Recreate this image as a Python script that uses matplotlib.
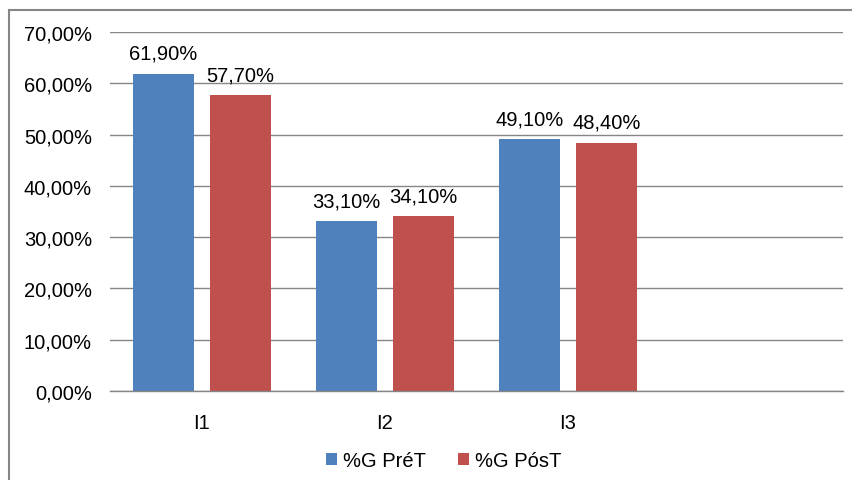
import matplotlib
matplotlib.use('Agg')
import matplotlib.pyplot as plt
from matplotlib.lines import Line2D
import numpy as np

# categorias e valores (%)
categorias = ['I1', 'I2', 'I3', '']
pre_t = [61.9, 33.1, 49.1]
pos_t = [57.7, 34.1, 48.4]
rotulos_y = ['0,00%', '10,00%', '20,00%', '30,00%', '40,00%', '50,00%', '60,00%', '70,00%']

azul = '#4F81BD'
vermelho = '#C0504D'
cinza = '#868686'

plt.rcParams['font.family'] = ['Liberation Sans', 'DejaVu Sans']
plt.rcParams['font.size'] = 14.5

fig = plt.figure(figsize=(8.53, 4.81), dpi=100)
ax = fig.add_axes([0.129, 0.185, 0.859, 0.746])

x = np.arange(len(pre_t))
largura = 0.333
desloc = 0.21

b1 = ax.bar(x - desloc, pre_t, largura, color=azul, label='%G PréT')
b2 = ax.bar(x + desloc, pos_t, largura, color=vermelho, label='%G PósT')

def fmt(v):
    return f'{v:.2f}'.replace('.', ',') + '%'

for barras, vals in ((b1, pre_t), (b2, pos_t)):
    for b, v in zip(barras, vals):
        ax.annotate(fmt(v), (b.get_x() + b.get_width() / 2, v),
                    xytext=(0, 8), textcoords='offset points',
                    ha='center', va='bottom')

ax.set_xlim(-0.5, 3.5)
ax.set_ylim(0, 70)
ax.set_yticks(np.arange(0, 71, 10))
ax.set_yticklabels(rotulos_y)
ax.set_xticks(np.arange(len(categorias)))
ax.set_xticklabels(categorias)

ax.yaxis.grid(True, color=cinza, linewidth=1)
ax.set_axisbelow(True)
for s in ('top', 'right', 'left'):
    ax.spines[s].set_visible(False)
ax.spines['bottom'].set_color(cinza)
ax.spines['bottom'].set_linewidth(1)
ax.tick_params(axis='both', length=0)
ax.tick_params(axis='y', pad=13)
ax.tick_params(axis='x', pad=16)

fig.legend(handles=[b1, b2], loc='center', bbox_to_anchor=(0.52, 0.04),
           ncol=2, frameon=False, handlelength=0.55, handleheight=0.55,
           handletextpad=0.3, columnspacing=1.6)

# moldura do gráfico
fig.add_artist(Line2D([9 / 853, 1], [1 - 11 / 481, 1 - 11 / 481],
                      transform=fig.transFigure, color=cinza, linewidth=1.5))
fig.add_artist(Line2D([9 / 853, 9 / 853], [0, 1 - 11 / 481],
                      transform=fig.transFigure, color=cinza, linewidth=1.5))

plt.savefig('out.png', dpi=100)
plt.close()
